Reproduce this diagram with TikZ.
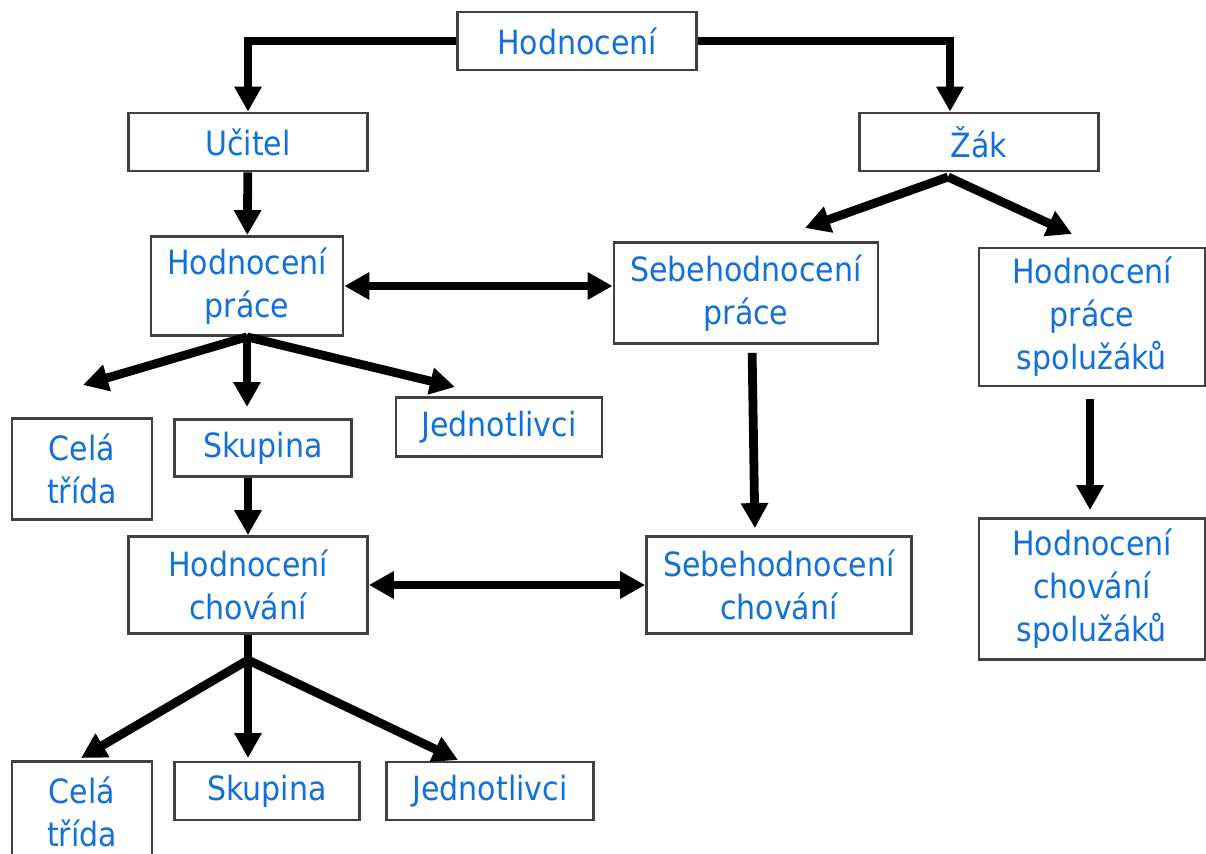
\documentclass[tikz,border=0pt]{standalone}
\usepackage{fontspec}
\setmainfont{DejaVu Sans Condensed}
\usepackage{xcolor}
\definecolor{TextBlue}{RGB}{18,112,218}
\definecolor{BoxGray}{RGB}{64,64,64}
\usetikzlibrary{arrows.meta}

\begin{document}
\begin{tikzpicture}[x=0.02cm,y=-0.02cm,
    box/.style={draw=BoxGray,line width=1.6pt,fill=white,text=TextBlue,align=center,
      inner sep=0pt,font=\fontsize{19}{24.5}\selectfont},
    arr/.style={line width=5pt,-{Triangle[length=0.5cm,width=0.52cm]}},
    darr/.style={line width=5pt,{Triangle[length=0.5cm,width=0.52cm]}-{Triangle[length=0.5cm,width=0.52cm]}}]
  \useasboundingbox (0,0) rectangle (1206,854);
  % boxes
  \node[box,minimum width=4.78cm,minimum height=1.16cm] (hod) at (577,41) {Hodnocení};
  \node[box,minimum width=4.78cm,minimum height=1.16cm] (ucitel) at (248,142) {Učitel};
  \node[box,minimum width=4.78cm,minimum height=1.16cm] (zak) at (979,142) {Žák};
  \node[box,minimum width=3.84cm,minimum height=1.98cm] (hp) at (247,286) {Hodnocení\\práce};
  \node[box,minimum width=5.28cm,minimum height=2.02cm] (sp) at (746,293) {Sebehodnocení\\práce};
  \node[box,minimum width=4.52cm,minimum height=2.76cm] (hps) at (1092,317) {Hodnocení\\práce\\spolužáků};
  \node[box,minimum width=2.8cm,minimum height=2.02cm] (cela1) at (82,469) {Celá\\třída};
  \node[box,minimum width=3.54cm,minimum height=1.14cm] (sk1) at (263,448) {Skupina};
  \node[box,minimum width=4.12cm,minimum height=1.18cm] (jed1) at (499,427) {Jednotlivci};
  \node[box,minimum width=4.78cm,minimum height=1.94cm] (hc) at (248,585) {Hodnocení\\chování};
  \node[box,minimum width=5.3cm,minimum height=1.94cm] (sc) at (779,585) {Sebehodnocení\\chování};
  \node[box,minimum width=4.52cm,minimum height=2.82cm] (hcs) at (1092,589) {Hodnocení\\chování\\spolužáků};
  \node[box,minimum width=2.8cm,minimum height=2.02cm] (cela2) at (82,812) {Celá\\třída};
  \node[box,minimum width=3.7cm,minimum height=1.16cm] (sk2) at (267,791) {Skupina};
  \node[box,minimum width=4.14cm,minimum height=1.16cm] (jed2) at (490,791) {Jednotlivci};
  % free ends
  \coordinate (zf) at (948,177);
  \coordinate (zl) at (805,228);
  \coordinate (zr) at (1072,234);
  \coordinate (pl) at (83,385);
  \coordinate (pm) at (247,407);
  \coordinate (pr) at (455,387);
  \coordinate (cf) at (248,660);
  \coordinate (cl) at (81,758);
  \coordinate (cm) at (248,758);
  \coordinate (cr) at (458,760);
  % connectors
  \draw[arr] (hod.west) -| (ucitel.north);
  \draw[arr] (hod.east) -| ([xshift=-0.58cm]zak.north);
  \draw[arr] (ucitel) -- (hp);
  \draw[arr] (zf) -- (zl);
  \draw[arr] (zf) -- (zr);
  \draw[darr] (hp.east) -- (hp.east -| sp.west);
  \draw[arr] (hp.south) -- (pl);
  \draw[arr] (hp.south) -- (pm);
  \draw[arr] (hp.south) -- (pr);
  \draw[arr,shorten <=0.16cm,shorten >=0.14cm] ([xshift=0.12cm]sp.south) -- ([xshift=-0.48cm]sc.north);
  \draw[arr,shorten <=0.24cm,shorten >=0.14cm] ([xshift=-0.04cm]hps.south) -- ([xshift=-0.04cm]hcs.north);
  \draw[arr] (hc.north |- sk1.south) -- (hc.north);
  \draw[darr] (hc.east) -- (sc.west);
  \draw[line width=5pt] (hc.south) -- (cf);
  \draw[arr] (cf) -- (cl);
  \draw[arr] (hc.south) -- (cm);
  \draw[arr] (cf) -- (cr);
\end{tikzpicture}
\end{document}
